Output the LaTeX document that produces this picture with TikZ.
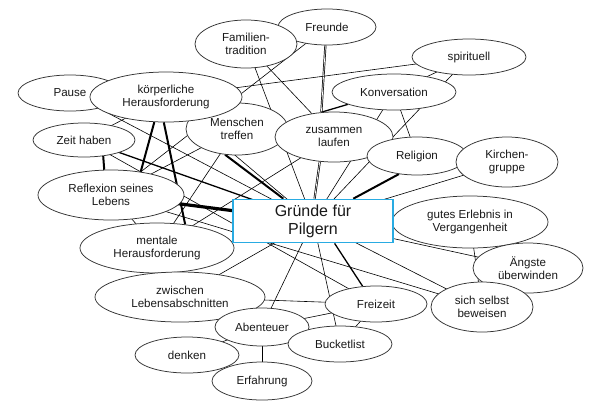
\documentclass[tikz,border=0pt]{standalone}
\usepackage{fontspec}
\setmainfont{Liberation Sans}
\usetikzlibrary{shapes.geometric}
\pgfdeclarelayer{bg}
\pgfsetlayers{bg,main}
\definecolor{boxblue}{RGB}{41,171,226}

\begin{document}
\begin{tikzpicture}[
    x=1pt,y=-1pt,
    every node/.style={font=\fontsize{11.6}{13.6}\selectfont, align=center, text=black!90},
    bub/.style={ellipse, draw=black!80, line width=0.75pt, fill=white, inner sep=0pt},
    hub/.style={draw=boxblue, line width=1.7pt, fill=white, minimum width=160pt, minimum height=43pt, font=\fontsize{16}{18}\selectfont},
    tie/.style={line width=0.6pt},
    mid/.style={line width=1.3pt},
    bold/.style={line width=2pt},
    heavy/.style={line width=3.2pt},
    twin/.style={double, double distance=0.7pt, line width=0.7pt}
]
    \useasboundingbox (0,0) rectangle (599,416);

    % ideas, back to front where they overlap
    \node[bub, minimum width=104pt, minimum height=36pt] (pause) at (70,93) {Pause};
    \node[bub, minimum width=102pt, minimum height=52pt] (mensch) at (237,129) {Menschen\\treffen};
    \node[bub, minimum width=152pt, minimum height=50pt] (koerp) at (166,97) {körperliche\\Herausforderung};
    \node[bub, minimum width=98pt, minimum height=36pt] (freunde) at (327,27) {Freunde};
    \node[bub, minimum width=102pt, minimum height=48pt] (famil) at (246,44) {Familien-\\tradition};
    \node[bub, minimum width=114pt, minimum height=36pt] (spirit) at (469,57) {spirituell};
    \node[bub, minimum width=124pt, minimum height=36pt] (konv) at (394,92) {Konversation};
    \node[bub, minimum width=118pt, minimum height=50pt] (zus) at (334,137) {zusammen\\laufen};
    \node[bub, minimum width=100pt, minimum height=38pt] (rel) at (417,156) {Religion};
    \node[bub, minimum width=102pt, minimum height=50pt] (kirch) at (507,162) {Kirchen-\\gruppe};
    \node[bub, minimum width=102pt, minimum height=34pt] (zeit) at (84,140) {Zeit haben};
    \node[bub, minimum width=146pt, minimum height=50pt] (refl) at (111,195) {Reflexion seines\\Lebens};
    \node[bub, minimum width=154pt, minimum height=50pt] (mental) at (157,248) {mentale\\Herausforderung};
    \node[bub, minimum width=170pt, minimum height=50pt] (zwisch) at (180,297) {zwischen\\Lebensabschnitten};
    \node[bub, minimum width=156pt, minimum height=52pt] (gutes) at (470,222) {gutes Erlebnis in\\Vergangenheit};
    \node[bub, minimum width=110pt, minimum height=50pt] (angst) at (528,268) {Ängste\\überwinden};
    \node[bub, minimum width=102pt, minimum height=36pt] (frei) at (376,304) {Freizeit};
    \node[bub, minimum width=102pt, minimum height=50pt] (selbst) at (482,307) {sich selbst\\beweisen};
    \node[bub, minimum width=94pt, minimum height=38pt] (abent) at (262,327) {Abenteuer};
    \node[bub, minimum width=104pt, minimum height=36pt] (buck) at (340,344) {Bucketlist};
    \node[bub, minimum width=104pt, minimum height=36pt] (denken) at (187,355) {denken};
    \node[bub, minimum width=100pt, minimum height=38pt] (erfahr) at (262,381) {Erfahrung};

    \node[hub] (grund) at (313,221) {Gründe für\\Pilgern};

    \begin{pgfonlayer}{bg}
    \fill[white] (0,0) rectangle (599,416);
    % strong links
    \draw[heavy] (refl.center) -- (grund.center);
    \draw[bold] (koerp.265) -- (mental.40);
    \draw[bold] (koerp.245) -- (refl.38);
    \draw[bold] (zeit.320) -- (refl.105);
    \draw[bold] (mensch.245) -- (grund.143);
    \draw[twin] (zus.240) -- (grund.86);
    \draw[twin] (freunde.265) -- (zus.117);
    \draw[mid] (konv.195) -- (zus.117);
    \draw[bold] (rel.225) -- (grund.29);
    \draw[mid] (grund.314) -- (frei.127);
    \draw[mid] (zeit.center) -- (grund.center);

    % weak links
    \draw[tie] (pause.center) -- (grund.center);
    \draw[tie] (famil.center) -- (grund.center);
    \draw[tie] (spirit.center) -- (grund.center);
    \draw[tie] (kirch.center) -- (grund.center);
    \draw[tie] (angst.center) -- (grund.center);
    \draw[tie] (selbst.center) -- (grund.center);
    \draw[tie] (buck.center) -- (grund.center);
    \draw[tie] (abent.center) -- (grund.center);
    \draw[tie] (zwisch.center) -- (grund.center);
    \draw[tie] (konv.center) -- (grund.center);
    \draw[tie] (koerp.center) -- (grund.center);
    \draw[tie] (koerp.center) -- (spirit.center);
    \draw[tie] (freunde.center) -- (famil.center);
    \draw[tie] (freunde.center) -- (refl.center);
    \draw[tie] (famil.center) -- (zus.center);
    \draw[tie] (spirit.center) -- (konv.center);
    \draw[tie] (konv.center) -- (rel.center);
    \draw[tie] (gutes.center) -- (selbst.center);
    \draw[tie] (zwisch.center) -- (frei.center);
    \draw[tie] (abent.center) -- (frei.center);
    \draw[tie] (abent.center) -- (buck.center);
    \draw[tie] (frei.center) -- (buck.center);
    \draw[tie] (abent.center) -- (denken.center);
    \draw[tie] (abent.center) -- (erfahr.center);
    \draw[tie] (mensch.center) -- (refl.center);
    \draw[tie] (mensch.center) -- (mental.center);
    \draw[tie] (zeit.center) -- (frei.center);
    \draw[tie] (zeit.center) -- (koerp.center);
    \draw[tie] (refl.center) -- (mental.center);
    \draw[tie] (refl.center) -- (selbst.center);
    \draw[tie] (mental.center) -- (zus.center);
    \end{pgfonlayer}
\end{tikzpicture}
\end{document}
